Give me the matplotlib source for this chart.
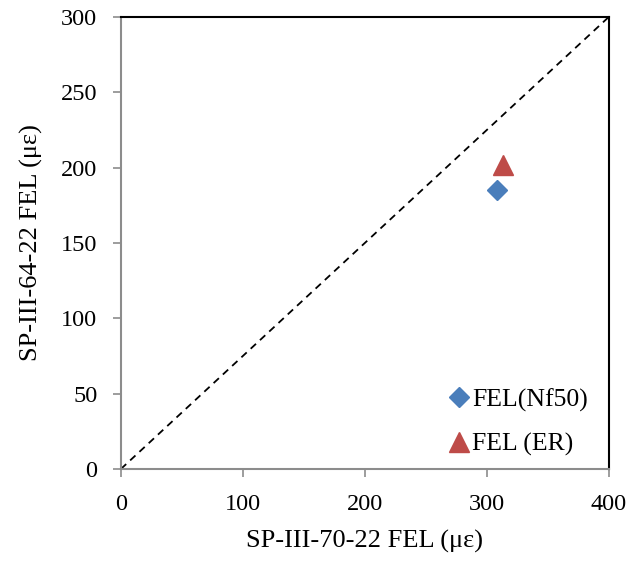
import matplotlib.pyplot as plt

# data
nf50_x = [308]
nf50_y = [185]
er_x = [313]
er_y = [202]
line_xy = [0, 400]

plt.rcParams['font.family'] = ['Liberation Serif', 'DejaVu Serif']
plt.rcParams['font.size'] = 17.5

fig = plt.figure(figsize=(6.43, 5.61), dpi=100)
ax = fig.add_axes([0.188, 0.164, 0.759, 0.806])

ax.plot(line_xy, [0, 300], color='black', linestyle='--', linewidth=1.3, dashes=(4, 3))
ax.plot(nf50_x, nf50_y, linestyle='none', marker='D', markersize=10,
        color='#4a7ebb', label='FEL(Nf50)')
ax.plot(er_x, er_y, linestyle='none', marker='^', markersize=14,
        color='#be4b48', label='FEL (ER)')

ax.set_xlim(0, 400)
ax.set_ylim(0, 300)
ax.set_xticks(range(0, 401, 100))
ax.set_yticks(range(0, 301, 50))

for side in ['left', 'bottom']:
    ax.spines[side].set_color('#8c8c8c')
    ax.spines[side].set_linewidth(1.5)
for side in ['top', 'right']:
    ax.spines[side].set_color('black')
    ax.spines[side].set_linewidth(1.5)
ax.tick_params(direction='out', length=6, width=1.2, color='#8c8c8c')
ax.tick_params(axis='x', pad=12)
ax.tick_params(axis='y', pad=11)

ax.set_xlabel('SP-III-70-22 FEL (\u03bc\u03b5)', fontsize=19, labelpad=11)
ax.set_ylabel('SP-III-64-22 FEL (\u03bc\u03b5)', fontsize=19, labelpad=13)

ax.legend(loc='lower right', frameon=False, fontsize=18.5, handlelength=0.6,
          handletextpad=0.2, labelspacing=0.82, borderaxespad=0.0,
          borderpad=0.0, bbox_to_anchor=(0.957, 0.028))

fig.savefig('out.png', dpi=100)
